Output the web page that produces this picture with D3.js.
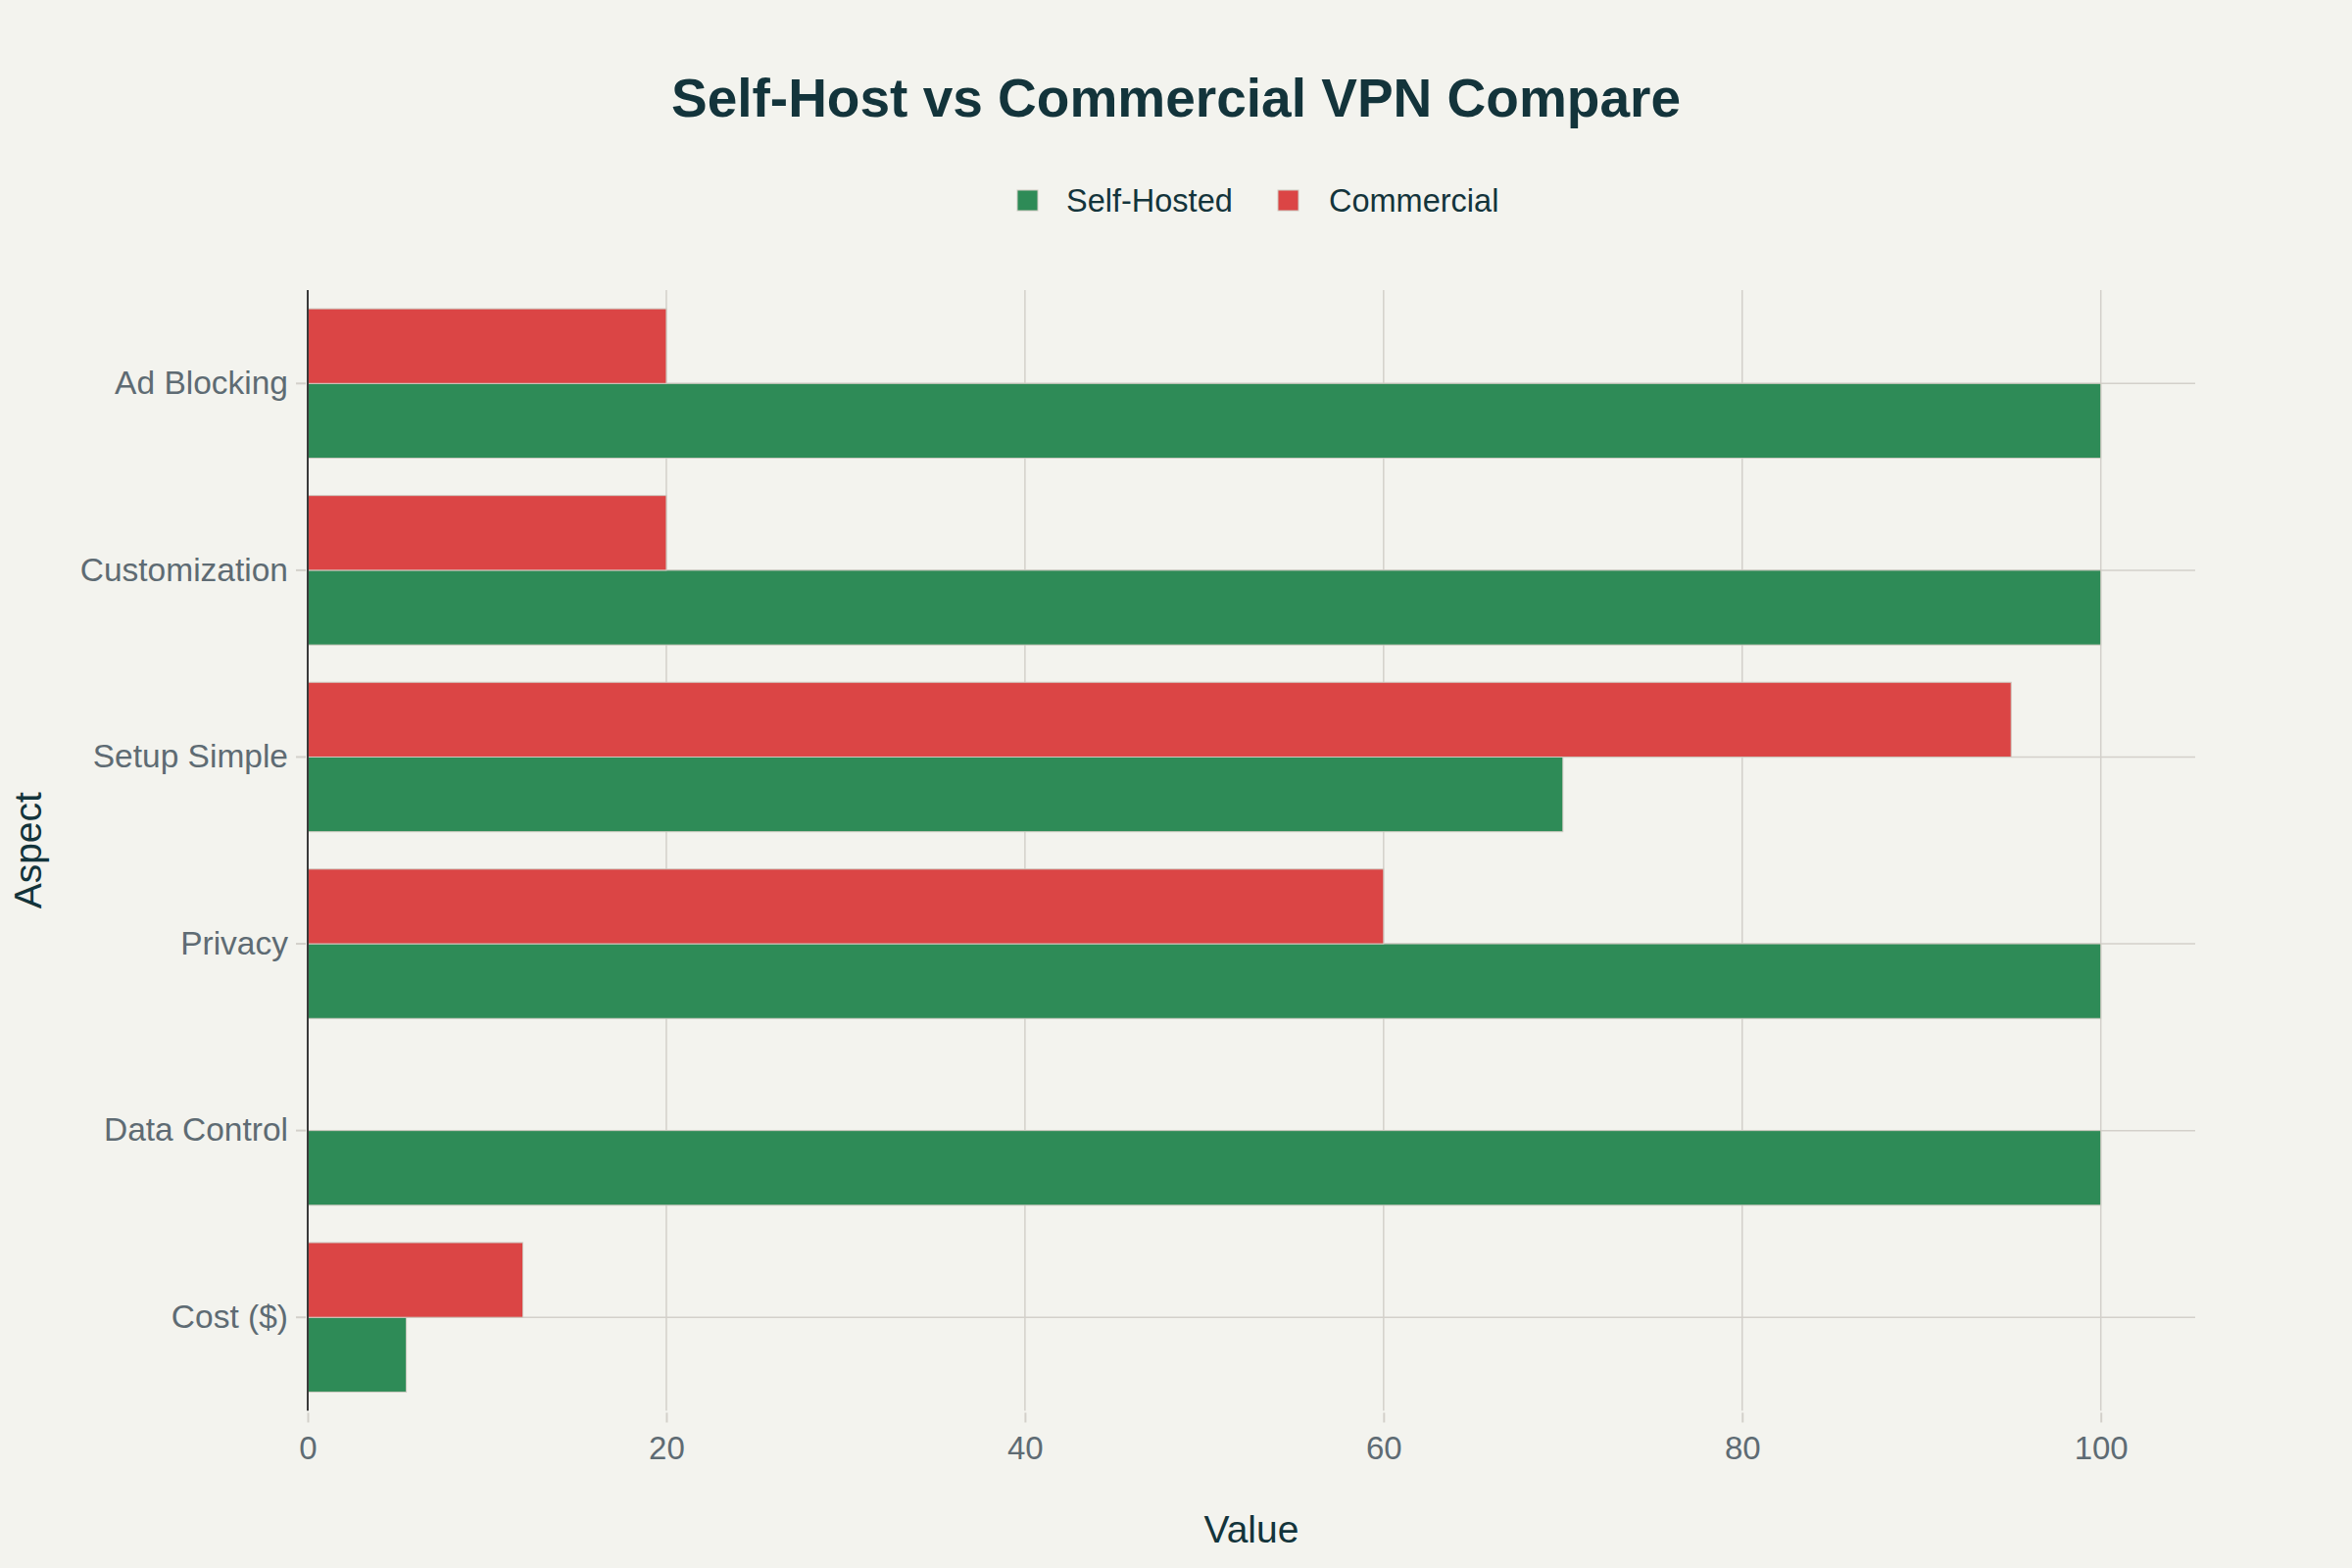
<!DOCTYPE html>
<html>
<head>
<meta charset="utf-8">
<script src="https://cdn.jsdelivr.net/npm/d3@7"></script>
<style>
  html, body { margin: 0; padding: 0; background: #F3F3EE; }
  svg { display: block; }
</style>
</head>
<body>
<svg id="chart" width="2400" height="1600"></svg>
<script>
// ---- Data ----
const categories = ["Cost ($)", "Data Control", "Privacy", "Setup Simple", "Customization", "Ad Blocking"];
const seriesNames = ["Self-Hosted", "Commercial"];
const selfHosted = [5.5, 100, 100, 70, 100, 100];
const commercial = [12, 0, 60, 95, 20, 20];
const xTicks = [0, 20, 40, 60, 80, 100];
const titleText = "Self-Host vs Commercial VPN Compare";
const xTitle = "Value";
const yTitle = "Aspect";

// ---- Style ----
const colors = { "Self-Hosted": "#2E8B57", "Commercial": "#DB4545" };
const FONT = "'Liberation Sans', Arial, sans-serif";
const bg = "#F3F3EE";

const W = 2400, H = 1600;
const margin = { left: 314, right: 160, top: 296, bottom: 160.5 };
const plotW = W - margin.left - margin.right;
const plotH = H - margin.top - margin.bottom;

const svg = d3.select("#chart");
svg.append("rect").attr("width", W).attr("height", H).attr("fill", bg);

const x = d3.scaleLinear().domain([0, 100 / 0.95]).range([margin.left, margin.left + plotW]);
const y = d3.scaleBand().domain(categories.slice().reverse()).range([margin.top, margin.top + plotH]).paddingInner(0.2).paddingOuter(0.1);
const yInner = d3.scaleBand().domain(["Commercial", "Self-Hosted"]).range([0, y.bandwidth()]);
const center = c => y(c) + y.bandwidth() / 2;

const g = svg.append("g");

g.selectAll(".vgrid").data(xTicks.filter(t => t > 0)).join("line")
  .attr("x1", d => x(d)).attr("x2", d => x(d))
  .attr("y1", margin.top).attr("y2", margin.top + plotH)
  .attr("stroke", "#D3D0CA").attr("stroke-width", 1.5);

g.selectAll(".hgrid").data(categories).join("line")
  .attr("x1", margin.left).attr("x2", margin.left + plotW)
  .attr("y1", d => center(d)).attr("y2", d => center(d))
  .attr("stroke", "#D3D0CA").attr("stroke-width", 1.5);

const rows = [];
categories.forEach((c, i) => {
  rows.push({ cat: c, series: "Self-Hosted", value: selfHosted[i] });
  rows.push({ cat: c, series: "Commercial", value: commercial[i] });
});
g.selectAll(".bar").data(rows.filter(r => r.value > 0)).join("rect")
  .attr("x", x(0))
  .attr("y", d => y(d.cat) + yInner(d.series))
  .attr("width", d => x(d.value) - x(0))
  .attr("height", yInner.bandwidth())
  .attr("fill", d => colors[d.series])
  .attr("stroke", "#CFCBC2").attr("stroke-width", 1);

const xAxis = d3.axisBottom(x).tickValues(xTicks).tickSize(10).tickPadding(14).tickFormat(d3.format("d"));
const xg = svg.append("g").attr("transform", `translate(0,${margin.top + plotH + 2})`).call(xAxis);
xg.select(".domain").remove();
xg.selectAll(".tick line").attr("stroke", "#D3D0CA").attr("stroke-width", 2);
xg.selectAll(".tick text").attr("fill", "#5E6B73").style("font-family", FONT).style("font-size", "33px");

const yAxis = d3.axisLeft(y).tickSize(10).tickPadding(8);
const yg = svg.append("g").attr("transform", `translate(${margin.left - 2},0)`).call(yAxis);
yg.select(".domain").remove();
yg.selectAll(".tick line").attr("stroke", "#D3D0CA").attr("stroke-width", 2);
yg.selectAll(".tick text").attr("fill", "#5E6B73").style("font-family", FONT).style("font-size", "33.5px");

svg.append("line")
  .attr("x1", x(0)).attr("x2", x(0))
  .attr("y1", margin.top).attr("y2", margin.top + plotH)
  .attr("stroke", "#3A3A3A").attr("stroke-width", 2);

svg.append("text").attr("x", 1200).attr("y", 119).attr("text-anchor", "middle")
  .attr("fill", "#13343B").style("font-family", FONT).style("font-weight", "bold").style("font-size", "55px")
  .text(titleText);

svg.append("text").attr("x", margin.left + plotW / 2).attr("y", 1574).attr("text-anchor", "middle")
  .attr("fill", "#13343B").style("font-family", FONT).style("font-size", "39px").text(xTitle);
svg.append("text").attr("transform", `translate(42,${margin.top + plotH / 2}) rotate(-90)`).attr("text-anchor", "middle")
  .attr("fill", "#13343B").style("font-family", FONT).style("font-size", "39px").text(yTitle);

const legendItems = [
  { name: "Self-Hosted", sx: 1038, tx: 1088 },
  { name: "Commercial", sx: 1304, tx: 1356 }
];
const lg = svg.append("g");
legendItems.forEach(it => {
  lg.append("rect").attr("x", it.sx).attr("y", 194).attr("width", 21).attr("height", 21)
    .attr("fill", colors[it.name]).attr("stroke", "#CFCBC2").attr("stroke-width", 1);
  lg.append("text").attr("x", it.tx).attr("y", 216).attr("fill", "#13343B")
    .style("font-family", FONT).style("font-size", "32.5px").text(it.name);
});
</script>
</body>
</html>
